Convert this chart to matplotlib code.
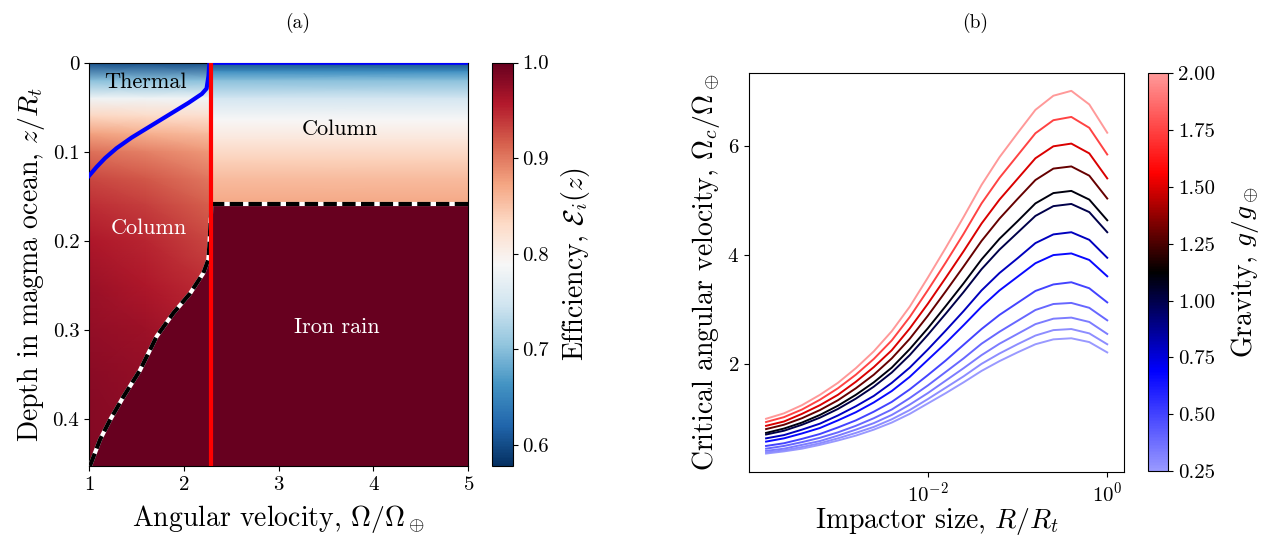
import numpy as np
import matplotlib
matplotlib.use("Agg")
import matplotlib.pyplot as plt
from matplotlib.colors import LinearSegmentedColormap, Normalize
from matplotlib.cm import ScalarMappable
from matplotlib.ticker import NullLocator, FixedLocator

plt.rcParams.update({
    "font.family": "serif",
    "font.serif": ["cmr10", "DejaVu Serif"],
    "mathtext.fontset": "cm",
    "axes.unicode_minus": False,
    "axes.formatter.use_mathtext": True,
})

# ---- panel (a): efficiency map ----
depth_max = 0.4525
omega_rot = 2.29          # critical rotation (red line)
depth_rain = 0.158        # column -> iron rain transition for fast rotation

# efficiency profile of the slow-rotation side, at three rotation rates
omega_left = [1.0, 1.6, omega_rot]
depth_left = [0.0, 0.02, 0.04, 0.06, 0.08, 0.10, 0.13, 0.16, 0.20, 0.25, 0.30, 0.35, depth_max]
eff_left = [
    [0.60, 0.70, 0.78, 0.835, 0.875, 0.905, 0.93, 0.945, 0.96, 0.97, 0.975, 0.98, 0.985],
    [0.60, 0.70, 0.78, 0.83, 0.865, 0.895, 0.92, 0.935, 0.95, 0.96, 0.97, 0.975, 0.98],
    [0.60, 0.70, 0.78, 0.825, 0.855, 0.88, 0.90, 0.915, 0.93, 0.945, 0.955, 0.965, 0.975],
]

# efficiency profile of the column on the fast-rotation side
omega_right = [omega_rot, 5.0]
depth_right = [0.0, 0.01, 0.02, 0.04, 0.064, 0.087, 0.11, 0.13, depth_rain]
eff_right = [0.60, 0.66, 0.70, 0.75, 0.79, 0.815, 0.84, 0.855, 0.87]

# thermal / column boundary
thermal_omega = [1.0, 1.08, 1.17, 1.29, 1.45, 1.65, 1.85, 2.05, 2.19, 2.24, 2.26, 2.27, 5.0]
thermal_depth = [0.127, 0.117, 0.107, 0.096, 0.084, 0.071, 0.058, 0.045, 0.035, 0.029, 0.015, 0.0, 0.0]

# column / iron rain boundary
rain_omega = [1.01, 1.116, 1.221, 1.362, 1.538, 1.714, 1.889, 2.065, 2.206, 2.258, 2.269, 2.283, omega_rot]
rain_depth = [0.4525, 0.423, 0.401, 0.375, 0.345, 0.307, 0.281, 0.259, 0.236, 0.221, 0.206, 0.177, 0.160]

# ---- panel (b): critical angular velocity ----
size_exponent = [-3.8, -3.6, -3.4, -3.2, -3.0, -2.8, -2.6, -2.4, -2.2, -2.0,
                 -1.8, -1.6, -1.4, -1.2, -1.0, -0.8, -0.6, -0.4, -0.2, 0.0]
gravity = [0.25, 0.2857, 0.3333, 0.4, 0.5, 0.6667, 0.8, 1.0, 1.1, 1.3, 1.5, 1.75, 2.0]
omega_crit = [
    [0.35, 0.39, 0.44, 0.51, 0.59, 0.68, 0.79, 0.92, 1.08, 1.27, 1.46, 1.66, 1.87, 2.05, 2.21, 2.36, 2.45, 2.47, 2.40, 2.21],
    [0.37, 0.41, 0.47, 0.54, 0.63, 0.73, 0.84, 0.98, 1.15, 1.35, 1.56, 1.77, 2.00, 2.19, 2.36, 2.52, 2.62, 2.64, 2.56, 2.36],
    [0.40, 0.44, 0.51, 0.58, 0.68, 0.79, 0.91, 1.06, 1.25, 1.46, 1.69, 1.92, 2.16, 2.37, 2.55, 2.73, 2.83, 2.85, 2.77, 2.55],
    [0.44, 0.49, 0.56, 0.64, 0.74, 0.86, 1.00, 1.16, 1.37, 1.60, 1.85, 2.10, 2.37, 2.59, 2.79, 2.99, 3.10, 3.12, 3.03, 2.80],
    [0.49, 0.54, 0.62, 0.71, 0.83, 0.96, 1.12, 1.30, 1.53, 1.79, 2.06, 2.35, 2.64, 2.90, 3.12, 3.34, 3.46, 3.50, 3.39, 3.13],
    [0.57, 0.63, 0.72, 0.82, 0.96, 1.11, 1.29, 1.50, 1.76, 2.07, 2.38, 2.71, 3.05, 3.35, 3.60, 3.85, 4.00, 4.03, 3.91, 3.61],
    [0.63, 0.69, 0.79, 0.90, 1.05, 1.22, 1.41, 1.65, 1.93, 2.26, 2.61, 2.97, 3.35, 3.67, 3.94, 4.22, 4.38, 4.42, 4.28, 3.95],
    [0.70, 0.77, 0.88, 1.01, 1.17, 1.36, 1.58, 1.84, 2.16, 2.53, 2.92, 3.32, 3.74, 4.10, 4.41, 4.72, 4.90, 4.94, 4.79, 4.42],
    [0.73, 0.81, 0.92, 1.06, 1.23, 1.43, 1.66, 1.93, 2.27, 2.65, 3.06, 3.48, 3.92, 4.30, 4.62, 4.95, 5.14, 5.18, 5.02, 4.64],
    [0.80, 0.88, 1.00, 1.15, 1.33, 1.55, 1.80, 2.10, 2.46, 2.88, 3.33, 3.79, 4.26, 4.67, 5.03, 5.38, 5.59, 5.63, 5.46, 5.04],
    [0.86, 0.94, 1.08, 1.24, 1.43, 1.67, 1.94, 2.25, 2.65, 3.10, 3.58, 4.07, 4.58, 5.02, 5.40, 5.78, 6.00, 6.05, 5.87, 5.41],
    [0.93, 1.02, 1.16, 1.34, 1.55, 1.80, 2.09, 2.43, 2.86, 3.35, 3.86, 4.39, 4.95, 5.42, 5.83, 6.24, 6.48, 6.54, 6.34, 5.85],
    [0.99, 1.09, 1.24, 1.43, 1.65, 1.92, 2.23, 2.60, 3.05, 3.58, 4.13, 4.70, 5.29, 5.80, 6.24, 6.67, 6.93, 7.02, 6.77, 6.25],
]

W, H = 1266, 539
fig = plt.figure(figsize=(W / 100, H / 100), dpi=100)


def px_axes(x0, y0, x1, y1):
    return fig.add_axes([x0 / W, 1 - y1 / H, (x1 - x0) / W, (y1 - y0) / H])


ax_a = px_axes(89, 62.7, 468.3, 466)
cax_a = px_axes(491.7, 62.5, 512.7, 466)
ax_b = px_axes(749, 72.7, 1124.3, 471.7)
cax_b = px_axes(1148, 73.3, 1168, 471)

label_fs = 20
tick_fs = 15

# efficiency map
cmap_a = plt.get_cmap("RdBu_r")
norm_a = Normalize(vmin=0.578, vmax=1.0)

OL, DL = np.meshgrid(omega_left, depth_left)
ax_a.pcolormesh(OL, DL, np.array(eff_left).T, cmap=cmap_a, norm=norm_a, shading="gouraud", zorder=1)
OR, DR = np.meshgrid(omega_right, depth_right)
ax_a.pcolormesh(OR, DR, np.tile(np.array(eff_right)[:, None], (1, len(omega_right))),
                cmap=cmap_a, norm=norm_a, shading="gouraud", zorder=1)

rain_color = cmap_a(norm_a(1.0))
ax_a.fill_between(rain_omega, rain_depth, depth_max, color=rain_color, lw=0, zorder=2)
ax_a.fill_between(omega_right, depth_rain, depth_max, color=rain_color, lw=0, zorder=2)

# boundaries
for xs, ys in [(rain_omega, rain_depth), (omega_right, [depth_rain, depth_rain])]:
    ax_a.plot(xs, ys, color="white", lw=3, zorder=3, solid_capstyle="butt")
    ax_a.plot(xs, ys, color="black", lw=3, dashes=(3.2, 1.3), zorder=4)
ax_a.plot(thermal_omega, thermal_depth, color="blue", lw=3, zorder=5)
ax_a.axvline(omega_rot, color="red", lw=3, zorder=6)

ax_a.text(1.60, 0.0224, "Thermal", fontsize=16, color="black", ha="center", va="center", zorder=7)
ax_a.text(3.65, 0.0748, "Column", fontsize=16, color="black", ha="center", va="center", zorder=7)
ax_a.text(1.63, 0.186, "Column", fontsize=16, color="white", ha="center", va="center", zorder=7)
ax_a.text(3.61, 0.297, "Iron rain", fontsize=16, color="white", ha="center", va="center", zorder=7)

ax_a.set_xlim(1, 5)
ax_a.set_ylim(depth_max, 0)
ax_a.set_xticks([1, 2, 3, 4, 5])
ax_a.set_yticks([0, 0.1, 0.2, 0.3, 0.4])
ax_a.set_yticklabels(["0", "0.1", "0.2", "0.3", "0.4"])
ax_a.tick_params(labelsize=tick_fs)
ax_a.set_xlabel(r"Angular velocity, $\Omega/\Omega_\oplus$", fontsize=label_fs, labelpad=7)
ax_a.set_ylabel(r"Depth in magma ocean, $z/R_t$", fontsize=label_fs, labelpad=4)

cb_a = fig.colorbar(ScalarMappable(norm=norm_a, cmap=cmap_a), cax=cax_a)
cb_a.set_ticks([0.6, 0.7, 0.8, 0.9, 1.0])
cb_a.set_ticklabels(["0.6", "0.7", "0.8", "0.9", "1.0"])
cb_a.ax.tick_params(labelsize=tick_fs)
cb_a.set_label(r"Efficiency, $\mathcal{E}_i(z)$", fontsize=label_fs, labelpad=7)

# critical angular velocity curves
cmap_b = LinearSegmentedColormap.from_list(
    "gravity", [(0.6, 0.6, 1.0), (0.0, 0.0, 1.0), (0.0, 0.0, 0.0), (1.0, 0.0, 0.0), (1.0, 0.6, 0.6)])
norm_b = Normalize(vmin=0.25, vmax=2.0)
sizes = 10.0 ** np.array(size_exponent)
for g, row in zip(gravity, omega_crit):
    ax_b.plot(sizes, row, color=cmap_b(norm_b(g)), lw=1.4)

ax_b.set_xscale("log")
ax_b.xaxis.set_major_locator(FixedLocator([1e-2, 1e0]))
ax_b.xaxis.set_minor_locator(NullLocator())
ax_b.set_yticks([2, 4, 6])
ax_b.tick_params(labelsize=tick_fs)
ax_b.set_xlabel(r"Impactor size, $R/R_t$", fontsize=label_fs, labelpad=0)
ax_b.set_ylabel(r"Critical angular velocity, $\Omega_c/\Omega_\oplus$", fontsize=label_fs, labelpad=4)

cb_b = fig.colorbar(ScalarMappable(norm=norm_b, cmap=cmap_b), cax=cax_b)
cb_b.set_ticks([0.25, 0.5, 0.75, 1.0, 1.25, 1.5, 1.75, 2.0])
cb_b.set_ticklabels(["0.25", "0.50", "0.75", "1.00", "1.25", "1.50", "1.75", "2.00"])
cb_b.ax.tick_params(labelsize=tick_fs)
cb_b.set_label(r"Gravity, $g/g_\oplus$", fontsize=label_fs, labelpad=10)

fig.text(298 / W, 1 - 23 / H, "(a)", fontsize=14, ha="center", va="center")
fig.text(975 / W, 1 - 23 / H, "(b)", fontsize=14, ha="center", va="center")

fig.savefig("out.png", dpi=100)
